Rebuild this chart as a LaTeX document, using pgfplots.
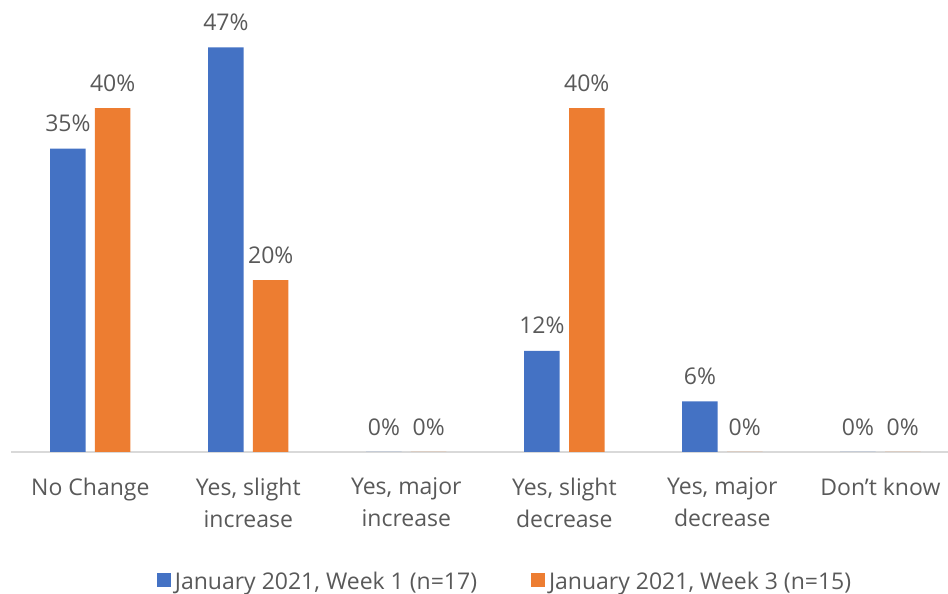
\documentclass[border=0pt]{standalone}
\usepackage{pgfplots}
\pgfplotsset{compat=1.18}
\usepackage{fontspec}
\setmainfont{Open Sans}
\definecolor{blu}{HTML}{4472C4}
\definecolor{orn}{HTML}{ED7D31}
\definecolor{txt}{HTML}{595959}
\definecolor{axl}{HTML}{D9D9D9}
\newcommand\lbl{\fontsize{11.5}{16}\selectfont}
\begin{document}
\begin{tikzpicture}
\begin{axis}[
  at={(0,0)}, anchor=south west,
  scale only axis, width=468.35pt, height=223.6pt,
  xmin=-0.5, xmax=5.428, ymin=0, ymax=52,
  axis x line=bottom, axis y line=none,
  x axis line style={-, draw=axl, line width=0.8pt},
  xtick={0,1,2,3,4,5},
  xticklabels={{No Change},{Yes, slight\\increase},{Yes, major\\increase},{Yes, slight\\decrease},{Yes, major\\decrease},{Don't know}},
  major tick length=0pt,
  xticklabel style={font=\lbl, text=txt, align=center, anchor=north, inner sep=0pt, yshift=-12.8pt},
  ytick=\empty,
  /pgf/number format/assume math mode=true,
  ybar, bar width=17.75pt,
  nodes near coords={\pgfmathprintnumber[fixed,precision=0,assume math mode=true]{\pgfplotspointmeta}\%},
  nodes near coords style={font=\lbl, text=txt, anchor=base, inner sep=0pt, yshift=8.5pt},
  clip=false,
  legend style={at={(0.155,-0.324)}, anchor=south west, legend columns=2, draw=none, fill=none,
    inner sep=0pt, font=\lbl, text=txt,
    /tikz/every even column/.append style={column sep=25pt}},
  legend image code/.code={\fill[#1] (0pt,-2.2pt) rectangle (7pt,4.8pt);},
]
\addplot[fill=blu, draw=none, bar shift=-11.2pt] coordinates {
  (0,35.29) (1,47.06) (2,0) (3,11.76) (4,5.88) (5,0)};
\addplot[fill=orn, draw=none, bar shift=11.2pt] coordinates {
  (0,40) (1,20) (2,0) (3,40) (4,0) (5,0)};
\legend{January 2021{,} Week 1 (n=17), January 2021{,} Week 3 (n=15)}
\end{axis}
\pgfresetboundingbox
\path (-5.65pt,-71pt) rectangle (468.35pt,226pt);
\end{tikzpicture}
\end{document}
